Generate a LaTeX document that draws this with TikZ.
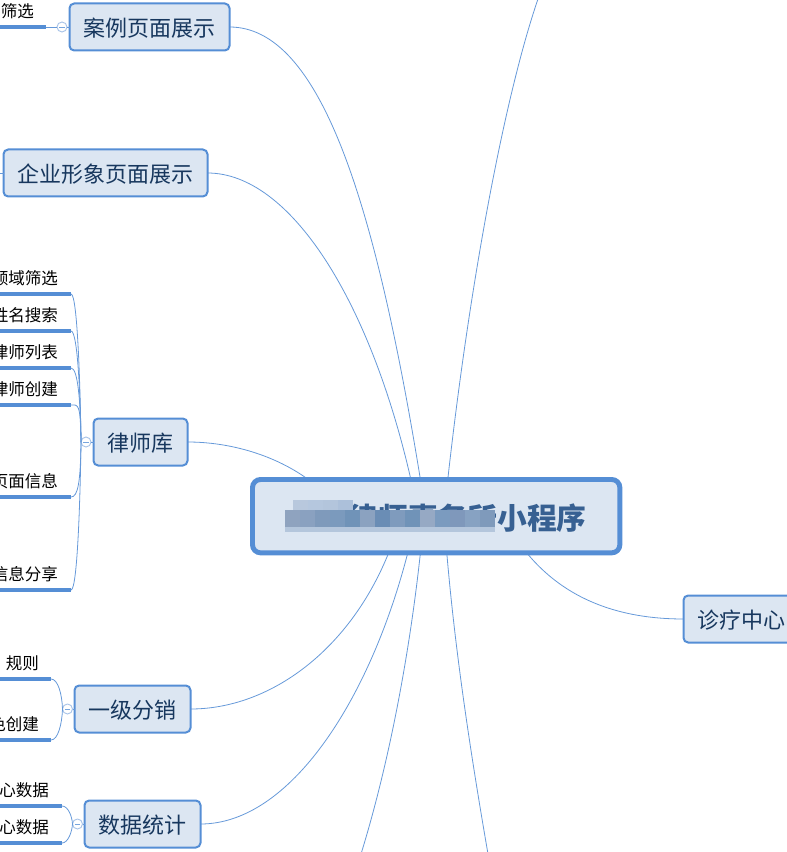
\documentclass[tikz,border=0pt]{standalone}
\usepackage{fontspec}
\setmainfont{Noto Sans CJK SC}
\usetikzlibrary{backgrounds}
\definecolor{bord}{HTML}{558ED5}
\definecolor{fillc}{HTML}{DCE6F2}
\definecolor{txt}{HTML}{17375E}
\definecolor{roottxt}{HTML}{376092}
\definecolor{circ}{HTML}{A9C4E8}
\definecolor{lightrow}{HTML}{B4C6DC}
\tikzset{
 px/.style={x=0.75pt,y=-0.75pt},
 topic/.style={draw=bord,fill=fillc,line width=1.5pt,rounded corners=3.5pt,text=txt,font=\fontsize{16.5pt}{20pt}\selectfont,inner sep=0pt,outer sep=0pt,anchor=north west,minimum height=35.25pt,text height=15pt,text depth=1pt},
 roottopic/.style={draw=bord,fill=fillc,line width=3.7pt,rounded corners=6pt,anchor=north west,inner sep=0pt,outer sep=0pt},
 conn/.style={draw=bord!90,line width=0.6pt},
 leafline/.style={draw=bord,line width=2.4pt,line cap=butt},
 branch/.style={draw=bord!90,line width=0.6pt},
 leaf/.style={anchor=south east,inner sep=0pt,outer sep=0pt,text=black,font=\fontsize{12.4pt}{14pt}\selectfont,minimum height=24pt,text width=100pt,align=right},
 toggle/.style={circle,draw=circ,fill=white,line width=0.7pt,minimum size=7.5pt,inner sep=0pt,outer sep=0pt,path picture={\draw[draw=bord!80,line width=0.5pt] ([xshift=-2pt]path picture bounding box.center)--([xshift=2pt]path picture bounding box.center);}},
 cell/.style={anchor=north west,inner sep=0pt,outer sep=0pt,minimum width=11.3pt,minimum height=12.75pt}
}
\begin{document}
\begin{tikzpicture}[px]
\useasboundingbox (0,0) rectangle (787,852);
\clip (0,0) rectangle (787,852);
% root
\node[roottopic,minimum width=275.5pt,minimum height=55pt] (root) at (252.5,479.5) {};
\node[anchor=west,inner sep=0pt,text=roottxt,font=\fontsize{22.3pt}{24pt}\selectfont\bfseries] (roottext) at (348.5,518.5) {律师事务所小程序};
% mosaic over the title
\foreach \i/\c in {0/8FA3BF,1/8AA1C0,2/7F9ABB,3/7B9ABD,4/7093B8,5/8BA2C0,6/6A8DB5,7/7F9BBD,8/7093B8,9/96A9C4,10/7B9BBF,11/7F98BB,12/87A2C2,13/7F9ABB}{
 \definecolor{cellc}{HTML}{\c}
 \node[cell,fill=cellc] at (285+15*\i,510) {};
 \node[cell,fill=lightrow,minimum height=3.75pt] at (285+15*\i,527) {};
}
\foreach \i/\c in {0/B8C8DD,1/B5C7DE,2/B3C5DC,3/ACC0DA}{
 \definecolor{cellc}{HTML}{\c}
 \node[cell,fill=cellc,minimum height=7.5pt] at (293+15*\i,500) {};
}
% main topics
\node[topic,minimum width=120pt] (anli) at (69.5,3.5) {案例页面展示};
\node[topic,minimum width=153pt] (qiye) at (3.5,149.5) {企业形象页面展示};
\node[topic,minimum width=70.5pt] (lvshi) at (93.5,418.5) {律师库};
\node[topic,minimum width=87pt] (fenxiao) at (74.5,685.5) {一级分销};
\node[topic,minimum width=87pt] (tongji) at (84.5,800.5) {数据统计};
\node[topic,minimum width=86.25pt] (zhenliao) at (683.5,595.5) {诊疗中心};
% free ends and entry points on the root
\coordinate (t1) at (538,-1);
\coordinate (b1) at (361,854);
\coordinate (b2) at (488,854);
\coordinate (q0) at (-2,173);
\coordinate (ra) at (420.5,480);
\coordinate (rq) at (411,480);
\coordinate (rl) at (309,480);
\coordinate (rt) at (447.7,480);
\coordinate (rf) at (389,552);
\coordinate (rs) at (408,552);
\coordinate (rb1) at (420.5,552);
\coordinate (rb2) at (446.7,552);
\coordinate (rz) at (526,552);
% connectors behind the root
\begin{pgfonlayer}{background}
\draw[conn] (anli.east) .. controls (320,27) and (375,200) .. (ra);
\draw[conn] (qiye.east) .. controls (290,173) and (370,300) .. (rq);
\draw[conn] (lvshi.east) .. controls (230,442) and (275,455) .. (rl);
\draw[conn] (t1) .. controls (505,95) and (470,280) .. (rt);
\draw[conn] (fenxiao.east) .. controls (270,709) and (350,650) .. (rf);
\draw[conn] (tongji.east) .. controls (290,824) and (370,700) .. (rs);
\draw[conn] (b1) .. controls (390,760) and (410,650) .. (rb1);
\draw[conn] (b2) .. controls (470,750) and (455,650) .. (rb2);
\draw[conn] (zhenliao.west) .. controls (620,619) and (565,600) .. (rz);
\end{pgfonlayer}
% 案例 branch
\node[leaf] (a1) at (46,27) {筛选\hspace*{9pt}};
\node[toggle] (ta) at (62,27) {};
\draw[branch] (a1.south east) -- (ta);
\draw[branch] (ta) -- (anli.west);
\draw[branch] (q0) -- (qiye.west);
\path[leafline] (a1.south west) -- (a1.south east);
% 律师库 branch
\node[toggle] (tl) at (86,442) {};
\draw[branch] (tl) -- (lvshi.west);
\foreach \n/\y/\t/\s in {l1/294/领域筛选/1,l2/331/姓名搜索/1,l3/368/律师列表/1,l4/405/律师创建/1,l5/497/页面信息/-1,l6/590/信息分享/-1}{
 \node[leaf] (\n) at (71,\y) {\t\hspace*{9.75pt}};
 \draw[branch] (\n.south east) .. controls +(7,0) and (80.5,442-\s*40) .. (tl.west);
 \path[leafline] (\n.south west) -- (\n.south east);
}
% 一级分销 branch
\node[toggle] (tf) at (67.5,709) {};
\draw[branch] (tf) -- (fenxiao.west);
\foreach \n/\y/\t/\s in {f1/679/规则/1,f2/740/角色创建/-1}{
 \node[leaf] (\n) at (51,\y) {\t\hspace*{9pt}};
 \draw[branch] (\n.south east) .. controls +(7,0) and (62,709-\s*15) .. (tf.west);
 \path[leafline] (\n.south west) -- (\n.south east);
}
% 数据统计 branch
\node[toggle] (ts) at (77.5,824) {};
\draw[branch] (ts) -- (tongji.west);
\foreach \n/\y/\t/\s in {s1/806/中心数据/1,s2/843/中心数据/-1}{
 \node[leaf] (\n) at (62,\y) {\t\hspace*{9.75pt}};
 \draw[branch] (\n.south east) .. controls +(6,0) and (72,824-\s*8) .. (ts.west);
 \path[leafline] (\n.south west) -- (\n.south east);
}
\end{tikzpicture}
\end{document}
